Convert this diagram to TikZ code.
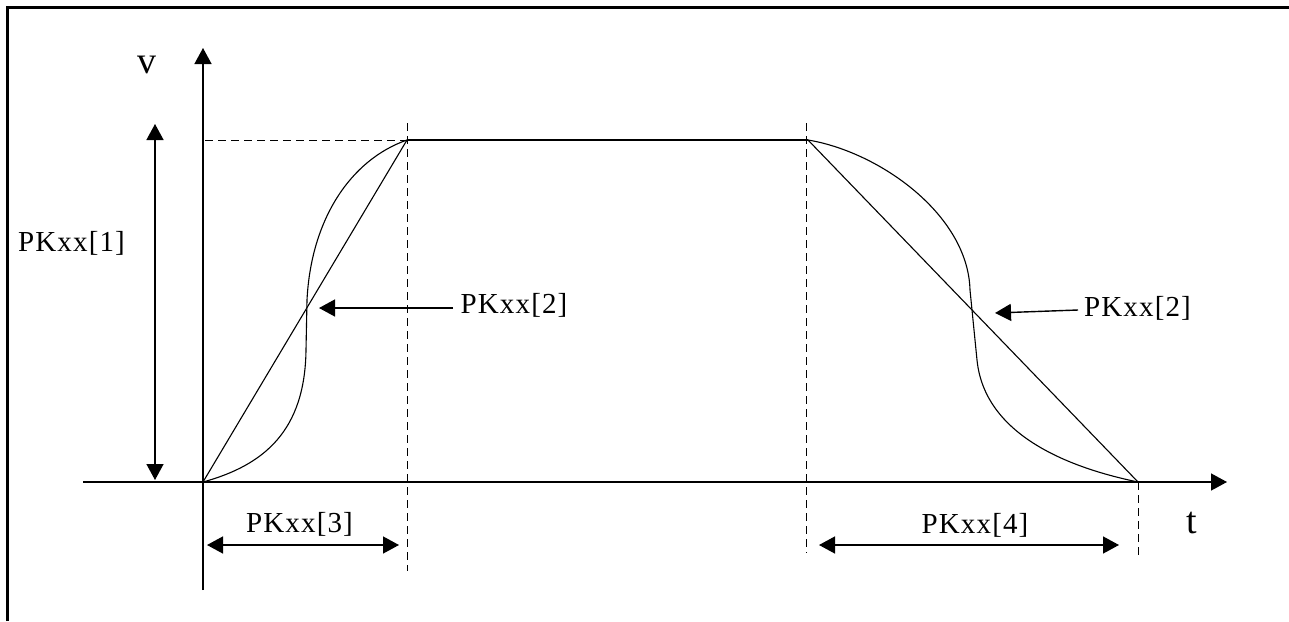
\documentclass[tikz,border=0pt]{standalone}
\usepackage{fontspec}
\setmainfont{Liberation Serif}
\newfontfamily\pkfont[LetterSpace=4]{Liberation Serif}
\usetikzlibrary{arrows.meta}
\begin{document}
\begin{tikzpicture}[x=0.5pt,y=-0.5pt,
  frameline/.style={line width=1.5pt},
  axisline/.style={line width=0.7pt},
  thinline/.style={line width=0.55pt},
  guide/.style={line width=0.5pt,dash pattern=on 4pt off 2.5pt},
  tip/.style={-{Triangle[length=8pt,width=8.5pt]}},
  dtip/.style={{Triangle[length=8pt,width=8.5pt]}-{Triangle[length=8pt,width=8.5pt]}},
  lbl/.style={font=\pkfont\fontsize{14.5}{16}\selectfont,inner sep=0pt,anchor=base},
  big/.style={font=\fontsize{19}{21}\selectfont,inner sep=0pt,anchor=base}]
\useasboundingbox[fill=white] (0,0) rectangle (1289,621);
% frame (top and left edges visible)
\draw[frameline] (7,621) -- (7,7) -- (1289,7);
% named points
\coordinate (O) at (203,482);
\coordinate (A) at (407,140);
\coordinate (B) at (808,140);
\coordinate (C) at (1138,482);
\coordinate (vbot) at (203,590);
\coordinate (vtop) at (203,48);
\coordinate (tleft) at (83,482);
\coordinate (tright) at (1227,482);
% guides
\draw[guide] (205,140) -- (B);
\draw[guide] (407,123) -- (407,571);
\draw[guide] (806,123) -- (806,553);
\draw[guide] (C) -- (1138,558);
% axes
\draw[axisline,tip] (vbot) -- (vtop);
\draw[axisline,tip] (tleft) -- (tright);
% plateau and linear ramps
\draw[thinline] (A) -- (B);
\draw[thinline] (O) -- (A);
\draw[thinline] (B) -- (C);
% S-curves
\draw[thinline] (O) .. controls (265,465) and (305,430) .. (306,350)
  -- (307,300) .. controls (311,220) and (350,160) .. (A);
\draw[thinline] (B) .. controls (880,152) and (968,215) .. (970,290)
  -- (977,360) .. controls (985,440) and (1080,470) .. (C);
% labels
\node[big] (v) at (147,73) {v};
\node[big] (t) at (1192,533) {t};
\node[lbl] (l1) at (71.5,251) {PKxx[1]};
\node[lbl] (l2a) at (514,313) {PKxx[2]};
\node[lbl] (l2b) at (1137.5,316) {PKxx[2]};
\node[lbl] (l3) at (299.5,532) {PKxx[3]};
\node[lbl] (l4) at (975,533) {PKxx[4]};
% dimension arrows
\coordinate (d1t) at (155,124);
\coordinate (d1b) at (155,480);
\draw[axisline,dtip] (d1t) -- (d1b);
\coordinate (d3l) at (207,545);
\coordinate (d3r) at (399,545);
\draw[axisline,dtip] (d3l) -- (d3r);
\coordinate (d4l) at (819,545);
\coordinate (d4r) at (1119,545);
\draw[axisline,dtip] (d4l) -- (d4r);
% pointer arrows
\coordinate (p2a) at (319,308);
\draw[axisline,tip] (l2a.west |- p2a) ++(-7,0) -- (p2a);
\coordinate (p2b) at (995,313);
\coordinate (s2b) at (1078,310);
\draw[axisline,tip] (s2b) -- (p2b);
\end{tikzpicture}
\end{document}
